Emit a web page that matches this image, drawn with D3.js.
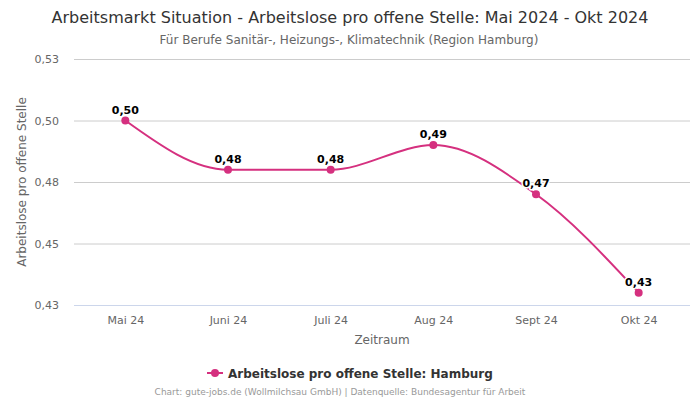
<!DOCTYPE html>
<html><head><meta charset="utf-8">
<script src="https://cdn.jsdelivr.net/npm/d3@7"></script>
<style>body{margin:0;background:#fff;font-family:"DejaVu Sans",sans-serif}</style>
</head><body><svg id="c" width="700" height="400"></svg>
<script>
const categories = ["Mai 24","Juni 24","Juli 24","Aug 24","Sept 24","Okt 24"];
const values = [0.50, 0.48, 0.48, 0.49, 0.47, 0.43];
const yTicks = [0.425, 0.45, 0.475, 0.5, 0.525];
const seriesName = "Arbeitslose pro offene Stelle: Hamburg";
const color = "#d5307f";
const fmt = v => (Math.round(v*100 + 1e-6)/100).toFixed(2).replace(".", ",");

const svg = d3.select("#c");
const m = {l:74, r:690, t:59, b:305};
const x = d3.scalePoint().domain(categories).range([m.l, m.r]).padding(0.5);
const y = d3.scaleLinear().domain([0.425, 0.525]).range([m.b, m.t]);

svg.append("text").attr("x",350).attr("y",22.5).attr("text-anchor","middle")
  .attr("font-size",16).attr("fill","#333").text("Arbeitsmarkt Situation - Arbeitslose pro offene Stelle: Mai 2024 - Okt 2024");
svg.append("text").attr("x",349).attr("y",43.5).attr("text-anchor","middle")
  .attr("font-size",12).attr("fill","#666").text("Für Berufe Sanitär-, Heizungs-, Klimatechnik (Region Hamburg)");

// grid
const gy = svg.append("g").attr("transform",`translate(${m.l},0)`)
  .call(d3.axisLeft(y).tickValues(yTicks).tickSize(-(m.r-m.l)).tickFormat(fmt));
gy.select(".domain").remove();
gy.selectAll(".tick line").attr("stroke","#ccc");
gy.selectAll(".tick").filter(d=>d===0.425).select("line").attr("stroke","#ccd6eb");
gy.selectAll(".tick text").attr("x",-15).attr("font-size",11).attr("fill","#666").attr("font-family","DejaVu Sans");

const gx = svg.append("g").attr("transform",`translate(0,${m.b})`)
  .call(d3.axisBottom(x).tickSize(0).tickPadding(11));
gx.select(".domain").remove();
gx.selectAll(".tick text").attr("font-size",11).attr("fill","#666").attr("font-family","DejaVu Sans");

svg.append("text").attr("x",(m.l+m.r)/2).attr("y",344).attr("text-anchor","middle")
  .attr("font-size",12).attr("fill","#666").text("Zeitraum");
svg.append("text").attr("transform",`translate(26,${(m.t+m.b)/2}) rotate(-90)`).attr("text-anchor","middle")
  .attr("font-size",12).attr("fill","#666").text("Arbeitslose pro offene Stelle");

const line = d3.line().x((d,i)=>x(categories[i])).y(d=>y(d)).curve(d3.curveMonotoneX);
svg.append("path").datum(values).attr("d",line).attr("fill","none").attr("stroke",color).attr("stroke-width",2);
svg.selectAll("circle.pt").data(values).join("circle").attr("class","pt")
  .attr("cx",(d,i)=>x(categories[i])).attr("cy",d=>y(d)).attr("r",4).attr("fill",color);
svg.selectAll("text.lbl").data(values).join("text").attr("class","lbl")
  .attr("x",(d,i)=>x(categories[i])).attr("y",d=>y(d)-7).attr("text-anchor","middle")
  .attr("font-size",11).attr("font-weight","bold").attr("fill","#000")
  .attr("stroke","#fff").attr("stroke-width",3).attr("paint-order","stroke").attr("stroke-linejoin","round")
  .text(d=>fmt(d));

// legend
const lg = svg.append("g");
lg.append("line").attr("x1",207).attr("x2",223).attr("y1",373).attr("y2",373).attr("stroke",color).attr("stroke-width",2);
lg.append("circle").attr("cx",215).attr("cy",373).attr("r",4).attr("fill",color);
lg.append("text").attr("x",228).attr("y",377.5).attr("font-size",12).attr("font-weight","bold").attr("fill","#333").text(seriesName);

svg.append("text").attr("x",340).attr("y",395).attr("text-anchor","middle").attr("font-size",9).attr("fill","#999")
  .text("Chart: gute-jobs.de (Wollmilchsau GmbH) | Datenquelle: Bundesagentur für Arbeit");
</script></body></html>
